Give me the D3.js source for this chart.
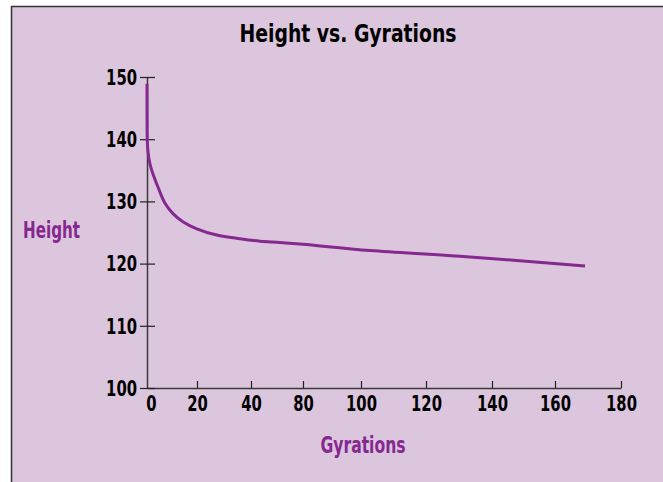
<!DOCTYPE html>
<html>
<head>
<meta charset="utf-8">
<script src="https://cdn.jsdelivr.net/npm/d3@7"></script>
<style>
  body { margin: 0; background: #fff; }
  text { font-family: "DejaVu Sans Condensed", "DejaVu Sans", sans-serif; font-weight: bold; }
</style>
</head>
<body>
<svg width="663" height="482"></svg>
<script>
// chart values
var title = "Height vs. Gyrations";
var xTitle = "Gyrations";
var yTitle = "Height";
var xTicks = [0, 20, 40, 80, 100, 120, 140, 160, 180];
var yTicks = [100, 110, 120, 130, 140, 150];
var gyrations = [0, 0.05, 0.15, 0.4, 0.9, 1.6, 2.5, 4.5, 7.2, 10.5, 14.5, 19.9, 27.3, 35.9, 46.9, 62.3, 80, 102.8, 130.3, 169.1];
var heights = [148.9, 141.3, 139.4, 138.0, 136.6, 135.4, 134.3, 132.2, 129.7, 128.0, 126.7, 125.6, 124.6, 124.0, 123.6, 123.4, 123.1, 122.1, 121.2, 119.6];

var purple = "#85288f";
var svg = d3.select("svg");

// squeeze the bold text into a narrow face like the original
function narrow(sel, perChar) {
    sel.attr("lengthAdjust", "spacingAndGlyphs")
       .attr("textLength", function() { return this.textContent.length * perChar; });
}

// panel
svg.append("rect")
    .attr("x", 11).attr("y", 6)
    .attr("width", 660).attr("height", 480)
    .attr("fill", "#dbc6de");
svg.append("path")
    .attr("d", "M11.5,482V6.5H663")
    .attr("fill", "none")
    .attr("stroke", "#333")
    .attr("stroke-width", 1.5);

// the printed axis is not evenly spaced, so the scale is piecewise
var x = d3.scaleLinear()
    .domain(xTicks)
    .range([147, 197, 251, 303, 361, 426, 492, 555, 621]);

var y = d3.scaleLinear()
    .domain([100, 150])
    .range([388, 77]);

var xAxis = svg.append("g")
    .attr("transform", "translate(0,388)")
    .call(d3.axisBottom(x)
        .tickValues(xTicks)
        .tickFormat(d3.format("d"))
        .tickSizeInner(-7)
        .tickSizeOuter(0)
        .tickPadding(7));

var yAxis = svg.append("g")
    .attr("transform", "translate(147,0)")
    .call(d3.axisLeft(y)
        .tickValues(yTicks)
        .tickSizeInner(-8)
        .tickSizeOuter(0)
        .tickPadding(10));

yAxis.selectAll(".tick line").attr("x1", -7);
var zeroTick = xAxis.selectAll(".tick").filter(function(d) { return d === 0; });
zeroTick.select("line").remove();
zeroTick.select("text").attr("dx", 4);

[xAxis, yAxis].forEach(function(a) {
    a.attr("font-size", null).attr("font-family", null);
    a.select(".domain").attr("stroke", "#3a3a3a").attr("stroke-width", 1.5);
    a.selectAll(".tick line").attr("stroke", "#222").attr("stroke-width", 1.2);
    a.selectAll(".tick text").attr("fill", "#000").style("font-size", "22px")
        .call(narrow, 10.3);
});
yAxis.selectAll(".tick text").attr("dy", "0.33em");

// curve
var line = d3.line()
    .x(function(d) { return x(d[0]); })
    .y(function(d) { return y(d[1]); })
    .curve(d3.curveCatmullRom.alpha(0.5));

svg.append("path")
    .datum(d3.zip(gyrations, heights))
    .attr("d", line)
    .attr("fill", "none")
    .attr("stroke", purple)
    .attr("stroke-width", 3);

// titles
svg.append("text")
    .attr("x", 348).attr("y", 42)
    .attr("text-anchor", "middle")
    .style("font-size", "24px")
    .attr("fill", "#000")
    .text(title)
    .attr("lengthAdjust", "spacingAndGlyphs")
    .attr("textLength", 217);

svg.append("text")
    .attr("x", 23).attr("y", 238)
    .style("font-size", "23px")
    .attr("fill", purple)
    .text(yTitle)
    .attr("lengthAdjust", "spacingAndGlyphs")
    .attr("textLength", 57);

svg.append("text")
    .attr("x", 363).attr("y", 453)
    .attr("text-anchor", "middle")
    .style("font-size", "23px")
    .attr("fill", purple)
    .text(xTitle)
    .attr("lengthAdjust", "spacingAndGlyphs")
    .attr("textLength", 85);
</script>
</body>
</html>
